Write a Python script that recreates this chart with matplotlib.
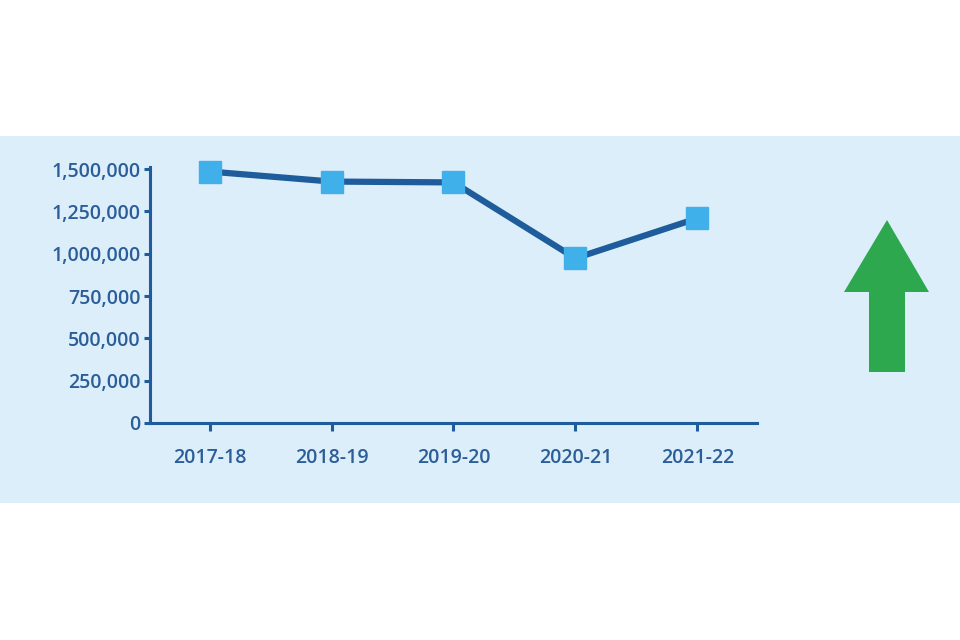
import matplotlib.pyplot as plt
from matplotlib.patches import Polygon, Rectangle

# Data
years = ['2017-18', '2018-19', '2019-20', '2020-21', '2021-22']
values = [1485000, 1426000, 1421000, 973000, 1209000]
yticks = [0, 250000, 500000, 750000, 1000000, 1250000, 1500000]

dark_blue = '#1f5c9c'
light_blue = '#3fb0ea'
band = '#ddeefb'
green = '#2ea84f'

plt.rcParams['font.family'] = ['Open Sans', 'DejaVu Sans']

fig = plt.figure(figsize=(9.6, 6.4), dpi=100)
fig.patch.set_facecolor('white')

# background layer in pixel coordinates: blue band + green up arrow
bg = fig.add_axes([0, 0, 1, 1], zorder=-1)
bg.set_xlim(0, 960)
bg.set_ylim(640, 0)
bg.axis('off')
bg.add_patch(Rectangle((0, 136), 960, 503 - 136, facecolor=band, edgecolor='none'))
bg.add_patch(Polygon([(887, 220), (929, 292), (905, 292), (905, 372),
                      (869, 372), (869, 292), (844, 292)],
                     closed=True, facecolor=green, edgecolor='none'))

ax = fig.add_axes([150 / 960, 1 - 423 / 640, (757 - 150) / 960, (423 - 167) / 640])
ax.set_facecolor('none')

x = list(range(len(years)))
ax.plot(x, values, color=dark_blue, linewidth=4.5, zorder=2, clip_on=False)
ax.plot(x, values, linestyle='none', marker='s', markersize=15.5,
        markerfacecolor=light_blue, markeredgecolor=light_blue, zorder=3,
        clip_on=False)

ax.set_xlim(-0.49, 4.49)
ax.set_ylim(0, 1512000)
ax.set_xticks(x)
ax.set_xticklabels(years)
ax.set_yticks(yticks)
ax.set_yticklabels([f'{v:,}' for v in yticks])

for side in ['top', 'right']:
    ax.spines[side].set_visible(False)
for side in ['left', 'bottom']:
    ax.spines[side].set_color(dark_blue)
    ax.spines[side].set_linewidth(2.2)

ax.tick_params(axis='x', colors=dark_blue, length=6, width=2.2, pad=12,
               labelsize=14)
ax.tick_params(axis='y', colors=dark_blue, length=4, width=2.2, pad=3,
               labelsize=14)
for lbl in ax.get_xticklabels() + ax.get_yticklabels():
    lbl.set_color('#2b5e99')
    lbl.set_fontweight('semibold')

fig.savefig('out.png', dpi=100)
